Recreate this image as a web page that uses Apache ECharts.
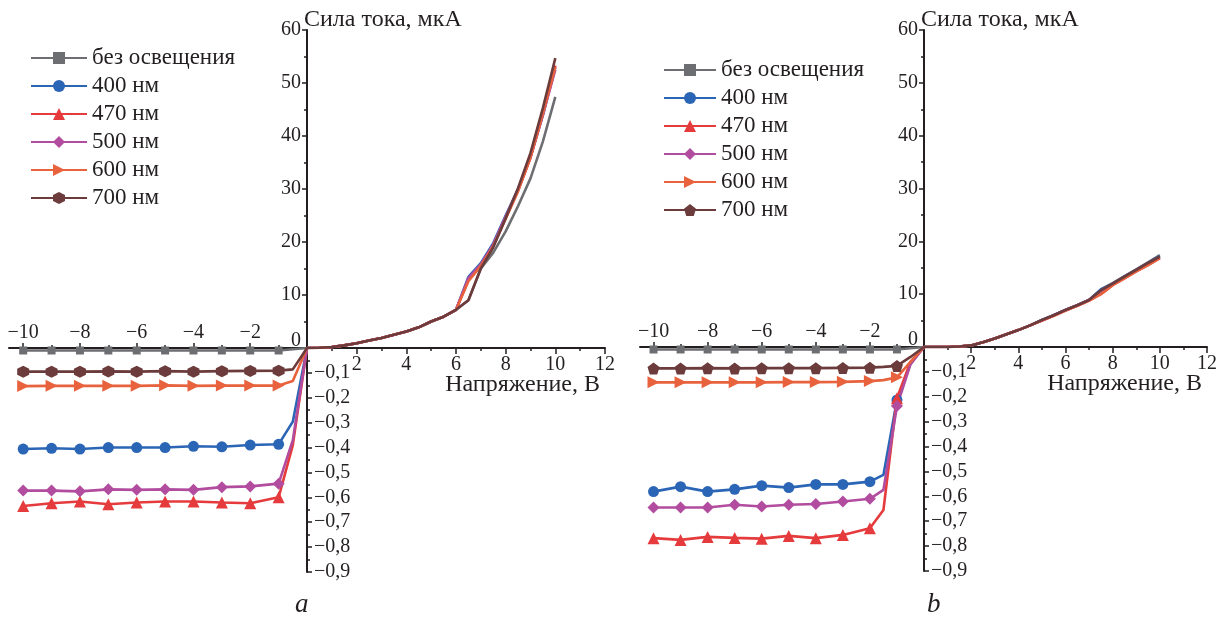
<!DOCTYPE html>
<html>
<head>
<meta charset="utf-8">
<script src="https://cdn.jsdelivr.net/npm/echarts@6/dist/echarts.min.js"></script>
<style>
  html, body { margin: 0; background: #fff; }
  #chart { width: 1225px; height: 621px; }
</style>
</head>
<body>
<div id="chart"></div>
<script>
// series labels
const names = ["без освещения", "400 нм", "470 нм", "500 нм", "600 нм", "700 нм"];

// panel a, reverse bias (x < 0)
const xNegA = [-10, -9, -8, -7, -6, -5, -4, -3, -2, -1, -0.5, 0];
const darkNegA = [-0.01, -0.01, -0.01, -0.01, -0.01, -0.01, -0.01, -0.01, -0.01, -0.01, -0.005, 0];
const nm400NegA = [-0.406, -0.403, -0.406, -0.4, -0.4, -0.4, -0.395, -0.397, -0.39, -0.387, -0.296, 0];
const nm470NegA = [-0.635, -0.624, -0.617, -0.628, -0.621, -0.617, -0.617, -0.621, -0.624, -0.6, -0.39, 0];
const nm500NegA = [-0.573, -0.573, -0.576, -0.568, -0.57, -0.568, -0.57, -0.559, -0.556, -0.545, -0.37, 0];
const nm600NegA = [-0.153, -0.152, -0.152, -0.152, -0.152, -0.15, -0.152, -0.151, -0.151, -0.151, -0.133, 0];
const nm700NegA = [-0.095, -0.095, -0.095, -0.094, -0.095, -0.093, -0.095, -0.093, -0.092, -0.091, -0.086, 0];

// panel a, forward bias (x > 0)
const xPosA = [0, 0.5, 1, 1.5, 2, 2.5, 3, 3.5, 4, 4.5, 5, 5.5, 6, 6.5, 7, 7.5, 8, 8.5, 9, 9.5, 10];
const darkPosA = [0, 0.05, 0.2, 0.5, 0.9, 1.4, 1.9, 2.5, 3.1, 3.9, 5.0, 5.9, 7.2, 9.0, 15.0, 18.0, 22.0, 26.8, 32.0, 39.0, 47.4];
const nm400PosA = [0, 0.05, 0.2, 0.5, 0.9, 1.4, 1.9, 2.5, 3.1, 3.9, 5.0, 5.9, 7.2, 13.4, 16.0, 19.8, 25.0, 30.0, 36.0, 44.0, 53.0];
const nm470PosA = [0, 0.05, 0.2, 0.5, 0.9, 1.4, 1.9, 2.5, 3.1, 3.9, 5.0, 5.9, 7.2, 12.8, 15.6, 19.3, 24.5, 29.7, 36.0, 44.2, 53.3];
const nm500PosA = [0, 0.05, 0.2, 0.5, 0.9, 1.4, 1.9, 2.5, 3.1, 3.9, 5.0, 5.9, 7.2, 13.2, 15.8, 19.5, 24.8, 29.8, 36.0, 44.0, 52.5];
const nm600PosA = [0, 0.05, 0.2, 0.5, 0.9, 1.4, 1.9, 2.5, 3.1, 3.9, 5.0, 5.9, 7.2, 12.6, 15.5, 19.2, 24.4, 29.6, 35.9, 44.2, 53.0];
const nm700PosA = [0, 0.05, 0.2, 0.5, 0.9, 1.4, 1.9, 2.5, 3.1, 3.9, 5.0, 5.9, 7.2, 9.0, 15.0, 19.0, 24.5, 30.2, 36.8, 45.3, 54.7];

// panel b, reverse bias
const xNegB = [-10, -9, -8, -7, -6, -5, -4, -3, -2, -1.5, -1, -0.5, 0];
const darkNegB = [-0.01, -0.01, -0.01, -0.01, -0.01, -0.01, -0.01, -0.01, -0.01, -0.01, -0.01, -0.005, 0];
const nm400NegB = [-0.581, -0.561, -0.581, -0.572, -0.557, -0.565, -0.552, -0.552, -0.541, -0.514, -0.213, -0.066, 0];
const nm470NegB = [-0.768, -0.775, -0.763, -0.767, -0.77, -0.759, -0.768, -0.755, -0.728, -0.655, -0.206, -0.06, 0];
const nm500NegB = [-0.645, -0.645, -0.645, -0.634, -0.641, -0.634, -0.631, -0.621, -0.61, -0.574, -0.237, -0.07, 0];
const nm600NegB = [-0.142, -0.142, -0.142, -0.142, -0.142, -0.141, -0.141, -0.14, -0.137, -0.133, -0.122, -0.06, 0];
const nm700NegB = [-0.086, -0.086, -0.085, -0.086, -0.085, -0.085, -0.085, -0.084, -0.083, -0.08, -0.076, -0.04, 0];

// panel b, forward bias
const xPosB = [0, 0.5, 1, 1.5, 2, 2.5, 3, 3.5, 4, 4.5, 5, 5.5, 6, 6.5, 7, 7.5, 8, 8.5, 9, 9.5, 10];
const darkPosB = [0, 0, 0, 0.1, 0.3, 0.9, 1.6, 2.4, 3.2, 4.1, 5.1, 6.0, 7.0, 7.9, 8.9, 10.9, 12.1, 13.4, 14.7, 16.0, 17.4];
const nm400PosB = [0, 0, 0, 0.1, 0.3, 0.9, 1.6, 2.4, 3.2, 4.1, 5.1, 6.0, 7.0, 7.9, 8.9, 10.9, 12.0, 13.3, 14.6, 15.9, 17.2];
const nm470PosB = [0, 0, 0, 0.1, 0.3, 0.9, 1.6, 2.4, 3.2, 4.1, 5.0, 5.9, 6.9, 7.8, 8.8, 10.0, 11.7, 13.0, 14.3, 15.5, 16.8];
const nm500PosB = [0, 0, 0, 0.1, 0.3, 0.9, 1.6, 2.4, 3.2, 4.1, 5.0, 6.0, 7.0, 7.9, 8.9, 10.6, 11.9, 13.2, 14.5, 15.7, 17.0];
const nm600PosB = [0, 0, 0, 0.1, 0.3, 0.9, 1.6, 2.4, 3.2, 4.1, 5.0, 5.9, 6.9, 7.8, 8.8, 10.0, 11.7, 13.0, 14.3, 15.5, 16.8];
const nm700PosB = [0, 0, 0, 0.1, 0.3, 0.9, 1.6, 2.4, 3.2, 4.1, 5.1, 6.0, 7.0, 7.9, 8.9, 10.7, 12.0, 13.3, 14.6, 15.9, 17.1];

// axis ticks / labels
const negXLabels = [-10, -8, -6, -4, -2];
const negXMajor = [-10, -8, -6, -4, -2];
const negXMinor = [-9, -7, -5, -3, -1];

const colors = ["#6d6e71", "#2b65b5", "#e53b3d", "#b24c9f", "#e8623e", "#6c3b3c"];
const hexagon = "path://M5,0L9.33,2.5L9.33,7.5L5,10L0.67,7.5L0.67,2.5Z";
const pentagon = "path://M5,0L10,3.7L8.1,9.6L1.9,9.6L0,3.7Z";
const rightTri = "path://M0,0L10,5L0,10Z";
const symbolsA = ["rect", "circle", "triangle", "diamond", rightTri, hexagon];
const symbolsB = ["rect", "circle", "triangle", "diamond", rightTri, pentagon];
const sizes = [8, 11, 12, 12, 12, 12];

const font = "Liberation Serif";
const ink = "#231f20";

function negData(xs, ys) {
  return xs.map((x, i) => {
    const marked = Number.isInteger(x) && x !== 0;
    return marked ? [x, ys[i]] : { value: [x, ys[i]], symbol: "none" };
  });
}

function posData(xs, ys) {
  return xs.map((x, i) => [x, ys[i]]);
}

function makeSeries(tag, symbols, xNeg, negs, xPos, poss, xNegIdx, yNegIdx, xPosIdx, yPosIdx) {
  const out = [];
  names.forEach((n, i) => {
    out.push({
      name: tag + "|" + n,
      type: "line",
      xAxisIndex: xNegIdx,
      yAxisIndex: yNegIdx,
      data: negData(xNeg, negs[i]),
      symbol: symbols[i],
      symbolSize: sizes[i],
      color: colors[i],
      lineStyle: { width: 2.6 },
    });
  });
  names.forEach((n, i) => {
    out.push({
      name: tag + "|" + n,
      type: "line",
      xAxisIndex: xPosIdx,
      yAxisIndex: yPosIdx,
      data: posData(xPos, poss[i]),
      symbol: symbols[i],
      symbolSize: sizes[i],
      showSymbol: false,
      color: colors[i],
      lineStyle: { width: 2.6 },
    });
  });
  return out;
}

const labelStyle = { fontFamily: font, fontSize: 20, color: ink };
const lineStyle = { show: true, lineStyle: { color: ink, width: 2 } };

function posX(grid) {
  return {
    type: "value", gridIndex: grid, min: 0, max: 12, interval: 2, position: "bottom",
    axisLine: { ...lineStyle, onZero: false },
    axisTick: { show: true, length: 6, lineStyle: { color: ink, width: 1.5 } },
    minorTick: { show: true, splitNumber: 2, length: 3, lineStyle: { color: ink, width: 1.5 } },
    axisLabel: { ...labelStyle, margin: 7, showMinLabel: false },
    splitLine: { show: false },
    name: "Напряжение, В",
    nameLocation: "end",
    nameGap: -5,
    nameMoveOverlap: false,
    nameTextStyle: { fontFamily: font, fontSize: 24, color: ink, align: "right", verticalAlign: "top", padding: [25, 0, 0, 0] },
  };
}

function negX(grid) {
  return {
    type: "value", gridIndex: grid, min: -10.5, max: 0, position: "top",
    axisLine: { ...lineStyle, onZero: false },
    axisTick: { show: true, length: 5, customValues: negXMajor, lineStyle: { color: ink, width: 1.5 } },
    axisLabel: {
      ...labelStyle, margin: 5, customValues: negXLabels,
      formatter: (v) => "\u2212" + Math.abs(v),
    },
    splitLine: { show: false },
  };
}

function negXMinorAxis(grid) {
  return {
    type: "value", gridIndex: grid, min: -10.5, max: 0, position: "top",
    axisLine: { show: false },
    axisTick: { show: true, length: 3, customValues: negXMinor, lineStyle: { color: ink, width: 1.5 } },
    axisLabel: { show: false },
    splitLine: { show: false },
  };
}

function posY(grid) {
  return {
    type: "value", gridIndex: grid, min: 0, max: 60, interval: 10, position: "left",
    axisLine: { ...lineStyle, onZero: false },
    axisTick: { show: true, length: 5, lineStyle: { color: ink, width: 1.5 } },
    minorTick: { show: true, splitNumber: 2, length: 3, lineStyle: { color: ink, width: 1.5 } },
    axisLabel: {
      ...labelStyle, margin: 6,
      formatter: (v) => (v === 0 ? "{z|0}" : String(v)),
      rich: { z: { fontFamily: font, fontSize: 20, color: ink, padding: [0, 0, 14, 0] } },
    },
    splitLine: { show: false },
    name: "Сила тока, мкА",
    nameLocation: "end",
    nameGap: -2,
    nameMoveOverlap: false,
    nameTextStyle: { fontFamily: font, fontSize: 24, color: ink, align: "left", padding: [0, 0, 0, -3] },
  };
}

function negY(grid) {
  return {
    type: "value", gridIndex: grid, min: -0.9, max: 0, interval: 0.1, position: "right",
    axisLine: { ...lineStyle, onZero: false },
    axisTick: { show: true, length: 5, lineStyle: { color: ink, width: 1.5 } },
    minorTick: { show: true, splitNumber: 2, length: 3, lineStyle: { color: ink, width: 1.5 } },
    axisLabel: {
      ...labelStyle, margin: 7, showMaxLabel: false,
      formatter: (v) => (v === 0 ? "" : "\u2212" + Math.abs(v).toFixed(1).replace(".", ",")),
    },
    splitLine: { show: false },
  };
}

function legend(tag, left, top, w) {
  return {
    orient: "vertical", left: left, top: top,
    itemWidth: w, itemHeight: 15, itemGap: 0,
    data: names.map((n) => tag + "|" + n),
    formatter: (name) => name.split("|")[1],
    textStyle: { fontFamily: font, fontSize: 23, color: ink, lineHeight: 28 },
    selectedMode: false,
  };
}

const chart = echarts.init(document.getElementById("chart"));
chart.setOption({
  animation: false,
  backgroundColor: "#fff",
  title: [
    { text: "a", left: 290, top: 586, textStyle: { fontFamily: font, fontStyle: "italic", fontWeight: "normal", fontSize: 27, color: ink } },
    { text: "b", left: 922, top: 586, textStyle: { fontFamily: font, fontStyle: "italic", fontWeight: "normal", fontSize: 27, color: ink } },
  ],
  legend: [legend("a", 25, 39, 56), legend("b", 658, 51, 52)],
  grid: [
    { left: 307, top: 30, width: 298, height: 318, outerBoundsMode: "none" },
    { left: 9, top: 348, width: 298, height: 224, outerBoundsMode: "none" },
    { left: 924, top: 30, width: 283, height: 317, outerBoundsMode: "none" },
    { left: 640, top: 347, width: 284, height: 224, outerBoundsMode: "none" },
  ],
  xAxis: [posX(0), negX(1), negXMinorAxis(1), posX(2), negX(3), negXMinorAxis(3)],
  yAxis: [posY(0), negY(1), posY(2), negY(3)],
  series: [
    ...makeSeries("a", symbolsA, xNegA,
      [darkNegA, nm400NegA, nm470NegA, nm500NegA, nm600NegA, nm700NegA],
      xPosA, [darkPosA, nm400PosA, nm470PosA, nm500PosA, nm600PosA, nm700PosA], 1, 1, 0, 0),
    ...makeSeries("b", symbolsB, xNegB,
      [darkNegB, nm400NegB, nm470NegB, nm500NegB, nm600NegB, nm700NegB],
      xPosB, [darkPosB, nm400PosB, nm470PosB, nm500PosB, nm600PosB, nm700PosB], 4, 3, 3, 2),
  ],
});
</script>
</body>
</html>
